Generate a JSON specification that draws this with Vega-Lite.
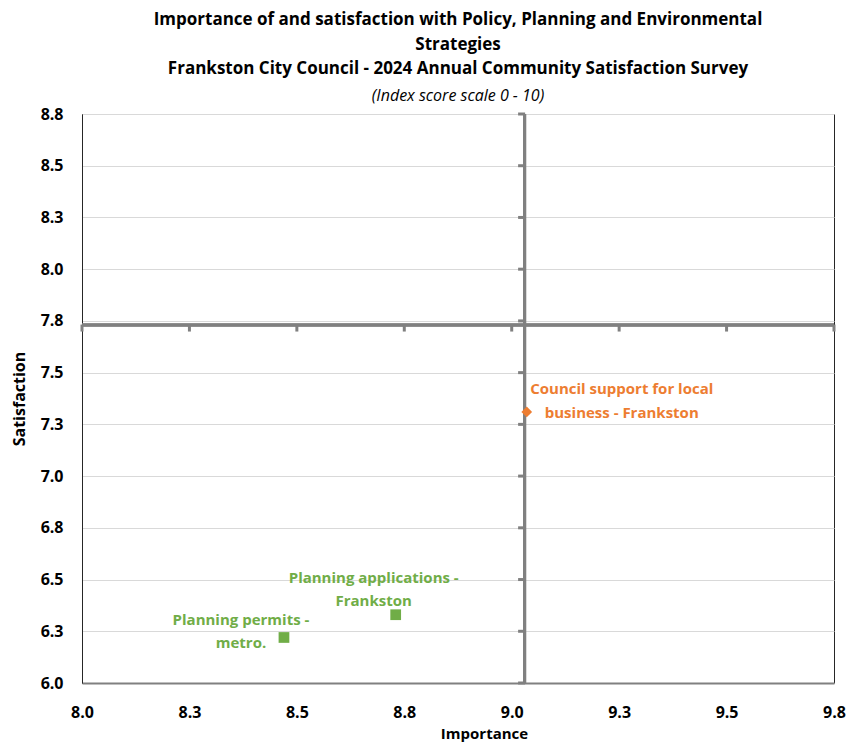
{
  "$schema": "https://vega.github.io/schema/vega-lite/v6.json",
  "autosize": {"type": "none"},
  "padding": {"left": 82, "top": 114, "right": 13, "bottom": 61},
  "width": 752,
  "height": 569,
  "background": "white",
  "title": {
    "text": ["Importance of and satisfaction  with Policy, Planning and Environmental", "Strategies", "Frankston City Council - 2024 Annual  Community Satisfaction  Survey"],
    "subtitle": "(Index score scale 0 - 10)",
    "anchor": "middle",
    "frame": "group",
    "font": "Open Sans",
    "fontSize": 17,
    "fontWeight": "bold",
    "color": "#000000",
    "lineHeight": 24.5,
    "subtitleFont": "Open Sans",
    "subtitleFontSize": 16,
    "subtitleFontStyle": "italic",
    "subtitleColor": "#000000",
    "subtitlePadding": 10,
    "offset": 1
  },
  "datasets": {
    "points": [
      {"item": "Council support for local business - Frankston", "label": "Council support for local\nbusiness - Frankston", "group": "business", "importance": 9.035, "satisfaction": 7.31},
      {"item": "Planning applications - Frankston", "label": "Planning applications -\nFrankston", "group": "planning", "importance": 8.73, "satisfaction": 6.33},
      {"item": "Planning permits - metro.", "label": "Planning permits -\nmetro.", "group": "planning", "importance": 8.47, "satisfaction": 6.22}
    ],
    "xticks": [{"v": 8.0}, {"v": 8.25}, {"v": 8.5}, {"v": 8.75}, {"v": 9.0}, {"v": 9.25}, {"v": 9.5}, {"v": 9.75}],
    "yticks": [{"v": 6.0}, {"v": 6.25}, {"v": 6.5}, {"v": 6.75}, {"v": 7.0}, {"v": 7.25}, {"v": 7.5}, {"v": 7.75}, {"v": 8.0}, {"v": 8.25}, {"v": 8.5}, {"v": 8.75}]
  },
  "config": {
    "view": {"stroke": "#262626", "strokeWidth": 1},
    "font": "Open Sans",
    "axis": {
      "labelFont": "Open Sans",
      "labelFontSize": 16,
      "labelFontWeight": "bold",
      "labelColor": "#000000",
      "titleFont": "Open Sans",
      "titleFontSize": 15,
      "titleFontWeight": "bold",
      "titleColor": "#000000",
      "ticks": false
    },
    "axisY": {"titleFontSize": 16}
  },
  "layer": [
    {
      "data": {"name": "points"},
      "mark": {"type": "point", "opacity": 0},
      "encoding": {
        "x": {
          "field": "importance", "type": "quantitative",
          "scale": {"domain": [8, 9.75], "nice": false, "zero": false},
          "axis": {"title": "Importance", "values": [8, 8.25, 8.5, 8.75, 9, 9.25, 9.5, 9.75], "format": ".1f", "grid": false, "labelPadding": 21, "titlePadding": 6, "titleX": 402, "domainColor": "#808080", "domainWidth": 2, "labelFlush": false}
        },
        "y": {
          "field": "satisfaction", "type": "quantitative",
          "scale": {"domain": [6, 8.75], "nice": false, "zero": false},
          "axis": {"title": "Satisfaction", "values": [6, 6.25, 6.5, 6.75, 7, 7.25, 7.5, 7.75, 8, 8.25, 8.5, 8.75], "format": ".1f", "grid": true, "gridColor": "#D9D9D9", "gridWidth": 1, "labelPadding": 19, "titlePadding": 13, "domainColor": "#262626", "domainWidth": 1}
        }
      }
    },
    {
      "data": {"name": "points"},
      "mark": {"type": "rule", "color": "#808080", "strokeWidth": 3},
      "encoding": {"x": {"datum": 9.03}}
    },
    {
      "data": {"name": "points"},
      "mark": {"type": "rule", "color": "#808080", "strokeWidth": 3},
      "encoding": {"y": {"datum": 7.73}}
    },
    {
      "data": {"name": "xticks"},
      "mark": {"type": "tick", "orient": "vertical", "color": "#808080", "thickness": 3, "size": 7, "yOffset": 3, "opacity": 1},
      "encoding": {"x": {"field": "v", "type": "quantitative"}, "y": {"datum": 7.73}}
    },
    {
      "data": {"name": "yticks"},
      "mark": {"type": "tick", "orient": "horizontal", "color": "#808080", "thickness": 3, "size": 7, "xOffset": -3, "opacity": 1},
      "encoding": {"y": {"field": "v", "type": "quantitative"}, "x": {"datum": 9.03}}
    },
    {
      "data": {"name": "points"},
      "mark": {"type": "point", "filled": true, "opacity": 1, "size": 115},
      "encoding": {
        "x": {"field": "importance", "type": "quantitative"},
        "y": {"field": "satisfaction", "type": "quantitative"},
        "color": {"field": "group", "type": "nominal", "scale": {"domain": ["business", "planning"], "range": ["#ED7D31", "#70AD47"]}, "legend": null},
        "shape": {"field": "group", "type": "nominal", "scale": {"domain": ["business", "planning"], "range": ["diamond", "square"]}, "legend": null}
      }
    },
    {
      "data": {"name": "points"},
      "transform": [{"filter": "datum.group === 'business'"}],
      "mark": {"type": "text", "lineBreak": "\n", "align": "center", "baseline": "middle", "dx": 95, "dy": -23, "fontSize": 15, "fontWeight": "bold", "lineHeight": 24, "font": "Open Sans"},
      "encoding": {
        "x": {"field": "importance", "type": "quantitative"},
        "y": {"field": "satisfaction", "type": "quantitative"},
        "text": {"field": "label"},
        "color": {"field": "group", "type": "nominal", "legend": null}
      }
    },
    {
      "data": {"name": "points"},
      "transform": [{"filter": "datum.item === 'Planning applications - Frankston'"}],
      "mark": {"type": "text", "lineBreak": "\n", "align": "center", "baseline": "middle", "dx": -22, "dy": -37, "fontSize": 15, "fontWeight": "bold", "lineHeight": 23, "font": "Open Sans"},
      "encoding": {
        "x": {"field": "importance", "type": "quantitative"},
        "y": {"field": "satisfaction", "type": "quantitative"},
        "text": {"field": "label"},
        "color": {"field": "group", "type": "nominal", "legend": null}
      }
    },
    {
      "data": {"name": "points"},
      "transform": [{"filter": "datum.item === 'Planning permits - metro.'"}],
      "mark": {"type": "text", "lineBreak": "\n", "align": "center", "baseline": "middle", "dx": -43, "dy": -17, "fontSize": 15, "fontWeight": "bold", "lineHeight": 23, "font": "Open Sans"},
      "encoding": {
        "x": {"field": "importance", "type": "quantitative"},
        "y": {"field": "satisfaction", "type": "quantitative"},
        "text": {"field": "label"},
        "color": {"field": "group", "type": "nominal", "legend": null}
      }
    }
  ]
}
